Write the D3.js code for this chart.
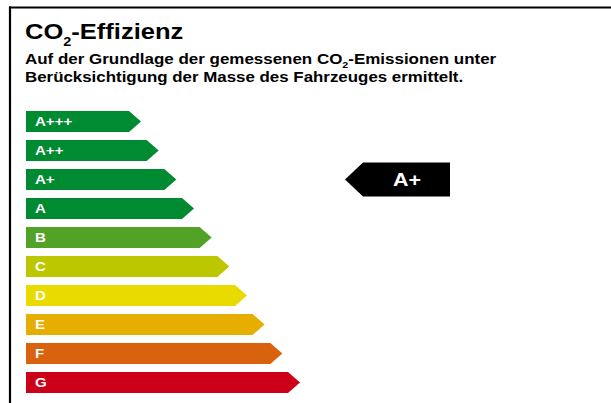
<!DOCTYPE html>
<html>
<head>
<meta charset="utf-8">
<script src="https://cdn.jsdelivr.net/npm/d3@7"></script>
<style>
  body { margin: 0; background: #fff; }
  svg text { font-family: Arial, "Liberation Sans", Helvetica, sans-serif; font-weight: bold; }
</style>
</head>
<body>
<svg id="chart" width="611" height="403"></svg>
<script>
// efficiency classes, best to worst
var classes = ['A+++', 'A++', 'A+', 'A', 'B', 'C', 'D', 'E', 'F', 'G'];
var classColors = ['#008a32', '#008a32', '#008a32', '#008a32', '#52a228', '#bdc700', '#e9db00', '#e5ae00', '#d8620e', '#cc0018'];
// rank of each class (bar length grows with rank)
var classRank = [0, 1, 2, 3, 4, 5, 6, 7, 8, 9];
var rating = 'A+';
var titleText = ['CO', '2', '-Effizienz'];
var subLine1 = ['Auf der Grundlage der gemessenen CO', '2', '-Emissionen unter'];
var subLine2 = 'Berücksichtigung der Masse des Fahrzeuges ermittelt.';

var svg = d3.select('#chart');

// the label font is a bit wider than arial, stretch text around its anchor
function widen(sel, x, k) {
  sel.attr('transform', 'translate(' + x + ',0) scale(' + k + ',1) translate(' + (-x) + ',0)');
}

// frame (only top and left visible)
svg.append('line').attr('x1', 9).attr('x2', 611).attr('y1', 7.5).attr('y2', 7.5)
  .attr('stroke', '#000').attr('stroke-width', 2.2);
svg.append('line').attr('x1', 10).attr('x2', 10).attr('y1', 6.5).attr('y2', 403)
  .attr('stroke', '#000').attr('stroke-width', 2.2);

// title
var title = svg.append('text').attr('x', 25).attr('y', 39).attr('font-size', 22).attr('fill', '#000');
title.append('tspan').text(titleText[0]);
title.append('tspan').attr('font-size', 12.5).attr('dy', 7).text(titleText[1]);
title.append('tspan').attr('dy', -7).text(titleText[2]);
widen(title, 25, 1.16);

var sub = svg.append('text').attr('x', 25).attr('y', 64.5).attr('font-size', 14.2).attr('fill', '#000');
sub.append('tspan').text(subLine1[0]);
sub.append('tspan').attr('font-size', 9).attr('dy', 4).text(subLine1[1]);
sub.append('tspan').attr('dy', -4).text(subLine1[2]);
widen(sub, 25, 1.195);
var sub2 = svg.append('text').attr('x', 25).attr('y', 82.5).attr('font-size', 14.2).attr('fill', '#000').text(subLine2);
widen(sub2, 25, 1.19);

// scales
var y = d3.scaleBand().domain(classes).range([111, 393]).paddingInner(0.276).paddingOuter(0);
var x = d3.scaleLinear().domain([0, 9]).range([141, 300]);
var x0 = 26, tip = 12;

var rows = svg.append('g').selectAll('g')
  .data(classes)
  .enter().append('g');

rows.append('path')
  .attr('fill', function (d, i) { return classColors[i]; })
  .attr('d', function (d, i) {
    var top = y(d), h = y.bandwidth(), end = x(classRank[i]);
    return 'M' + x0 + ',' + top + 'L' + (end - tip) + ',' + top + 'L' + end + ',' + (top + h / 2) +
      'L' + (end - tip) + ',' + (top + h) + 'L' + x0 + ',' + (top + h) + 'Z';
  });

rows.append('text')
  .attr('x', 35)
  .attr('y', function (d) { return y(d) + y.bandwidth() / 2 + 4.7; })
  .attr('font-size', 13)
  .attr('fill', '#fff')
  .text(function (d) { return d; })
  .each(function () { widen(d3.select(this), 35, 1.16); });

// rating indicator
var cy = y(rating) + y.bandwidth() / 2;
var ih = 34, il = 345, ir = 450, itip = 18;
svg.append('path')
  .attr('fill', '#000')
  .attr('d', 'M' + il + ',' + cy + 'L' + (il + itip) + ',' + (cy - ih / 2) + 'L' + ir + ',' + (cy - ih / 2) +
    'L' + ir + ',' + (cy + ih / 2) + 'L' + (il + itip) + ',' + (cy + ih / 2) + 'Z');
var rt = svg.append('text')
  .attr('x', 407).attr('y', cy + 7)
  .attr('text-anchor', 'middle')
  .attr('font-size', 18)
  .attr('fill', '#fff')
  .text(rating);
widen(rt, 407, 1.19);
</script>
</body>
</html>
